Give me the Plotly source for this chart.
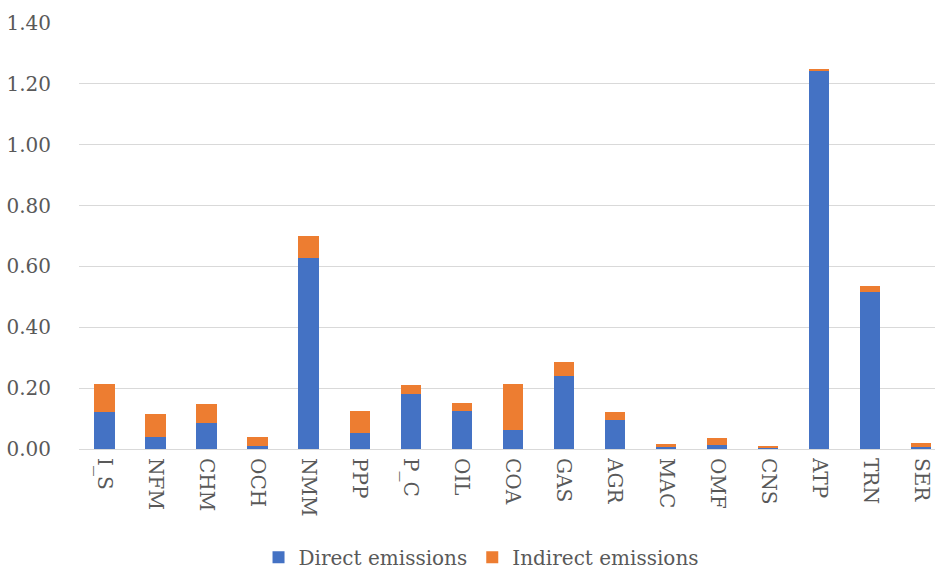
import plotly.graph_objects as go

# Sector codes and emission intensities
sectors = ["I_S", "NFM", "CHM", "OCH", "NMM", "PPP", "P_C", "OIL", "COA",
           "GAS", "AGR", "MAC", "OMF", "CNS", "ATP", "TRN", "SER"]
direct = [0.123, 0.040, 0.087, 0.011, 0.629, 0.052, 0.180, 0.126, 0.062,
          0.240, 0.095, 0.005, 0.014, 0.005, 1.244, 0.517, 0.008]
indirect = [0.090, 0.074, 0.062, 0.028, 0.071, 0.072, 0.030, 0.024, 0.151,
            0.045, 0.026, 0.010, 0.022, 0.004, 0.005, 0.018, 0.012]
y_ticks = [0.0, 0.2, 0.4, 0.6, 0.8, 1.0, 1.2, 1.4]

FONT = "DejaVu Serif"
TEXT = "#595959"

fig = go.Figure()
fig.add_trace(go.Bar(x=sectors, y=direct, name="Direct emissions",
                     marker=dict(color="#4472C4", line=dict(width=0))))
fig.add_trace(go.Bar(x=sectors, y=indirect, name="Indirect emissions",
                     marker=dict(color="#ED7D31", line=dict(width=0))))

fig.update_layout(
    barmode="stack",
    bargap=0.6,
    width=935, height=571,
    margin=dict(l=79, r=0, t=23, b=122, autoexpand=False),
    paper_bgcolor="white", plot_bgcolor="white",
    font=dict(family=FONT, size=20, color=TEXT),
    showlegend=True,
    legend=dict(orientation="h", xref="container", x=0.515, xanchor="center",
                yref="container", y=0.024, yanchor="middle",
                font=dict(family=FONT, size=20, color=TEXT),
                itemwidth=30, traceorder="normal"),
    xaxis=dict(type="category", range=[-0.5, 16.27], tickangle=90,
               showgrid=False, showline=False, ticks="", ticklabelstandoff=8,
               automargin=False,
               tickfont=dict(family=FONT, size=20, color=TEXT)),
    yaxis=dict(range=[0, 1.4], tickvals=y_ticks,
               ticktext=[f"{v:.2f}" for v in y_ticks],
               showgrid=True, gridcolor="#d9d9d9", gridwidth=1,
               zeroline=True, zerolinecolor="#d9d9d9", zerolinewidth=1,
               showline=False, ticks="", ticklabelstandoff=27,
               automargin=False,
               tickfont=dict(family=FONT, size=20, color=TEXT)),
)

fig.write_html("out.html")
